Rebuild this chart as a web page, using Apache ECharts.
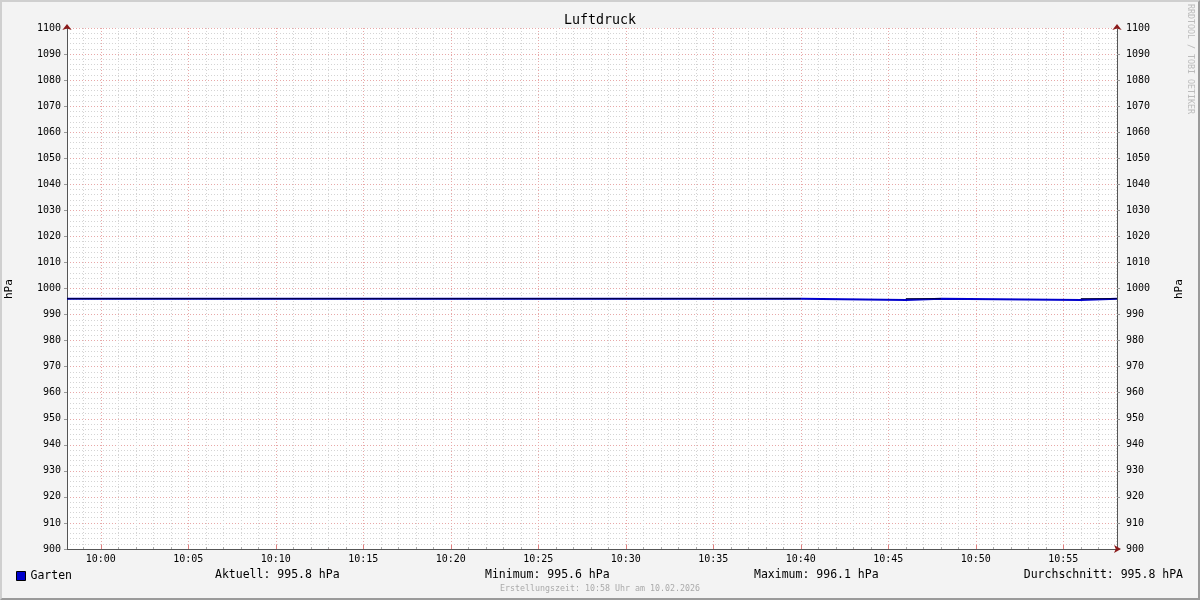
<!DOCTYPE html>
<html><head><meta charset="utf-8">
<script src="https://cdn.jsdelivr.net/npm/echarts@6/dist/echarts.min.js"></script>
<style>
html,body{margin:0;padding:0;background:#f3f3f3;}
#c{width:1200px;height:600px;position:absolute;left:0;top:0;}
#b{position:absolute;left:0;top:0;width:1200px;height:600px;box-sizing:border-box;border-top:2px solid #cfcfcf;border-left:2px solid #cfcfcf;border-right:2px solid #9a9a9a;border-bottom:2px solid #9a9a9a;pointer-events:none;}
</style></head>
<body><div id="c"></div><div id="b"></div>
<script>
// ---- data ----
const chartTitle = 'Luftdruck';
const axisUnit = 'hPa';
const seriesName = 'Garten';
const windowStart = '09:58:04';
const windowEnd = '10:58:04';
const xTickLabels = ['10:00','10:05','10:10','10:15','10:20','10:25','10:30','10:35','10:40','10:45','10:50','10:55'];
// step breakpoints: value holds from time[i] until time[i+1]
const gartenTimes = ['09:58:04', '10:40:00', '10:46:00', '10:48:00', '10:56:00', '10:58:04'];
const gartenValues = [996.1, 995.6, 996.1, 995.6, 996.1, 996.1];
const statLabels = ['Aktuell: 995.8 hPa', 'Minimum: 995.6 hPa', 'Maximum: 996.1 hPa', 'Durchschnitt: 995.8 hPA'];
const footerText = 'Erstellungszeit: 10:58 Uhr am 10.02.2026';
const watermark = 'RRDTOOL / TOBI OETIKER';
const yMin = 900, yMax = 1100, yStep = 10;

// minutes relative to 10:00
function m(hms){ const p = hms.split(':').map(Number); return (p[0]-10)*60 + p[1] + (p[2]||0)/60; }
function pad(n){ return (n<10?'0':'')+n; }
function fmt(v){ const tot = Math.round(v) + 600; return pad(Math.floor(tot/60))+':'+pad(tot%60); }

const xMin = m(windowStart), xMax = m(windowEnd);
const majorTicks = xTickLabels.map(m);
const minorTicks = [];
for (let k=Math.ceil(xMin); k<=Math.floor(xMax); k++) minorTicks.push(k);

// explicit step path: hold each value until the next breakpoint
const gartenData = [];
for (let i=0;i<gartenTimes.length-1;i++){
  gartenData.push([m(gartenTimes[i]), gartenValues[i]]);
  gartenData.push([m(gartenTimes[i+1]), gartenValues[i]]);
}
// dark overlay drawn on the high (max) segments
const maxVal = Math.max.apply(null, gartenValues);
const overlayData = [];
for (let i=0;i<gartenTimes.length-1;i++){
  if (gartenValues[i] === maxVal){
    overlayData.push([m(gartenTimes[i]), gartenValues[i]]);
    overlayData.push([m(gartenTimes[i+1]), gartenValues[i]]);
    overlayData.push([m(gartenTimes[i+1]), null]);
  }
}

const MONO = 'DejaVu Sans Mono';
const chart = echarts.init(document.getElementById('c'), null, {renderer:'canvas'});

function yAx(pos, deco){
  return {
    type:'value', position:pos, min:yMin, max:yMax, interval:yStep,
    axisLine:{show:true, onZero:false, symbol: deco ? ['none','arrow'] : 'none', symbolSize:[7,6], symbolOffset:[0,4],
      lineStyle:{color: deco ? '#8b1a1a' : '#555', width:1}},
    axisTick:{show:!deco, length:3, lineStyle:{color:'#999'}},
    axisLabel:{show:!deco, color:'#000', fontFamily:MONO, fontSize:10, margin: pos==='left'?6:9,
      formatter:function(v){ return String(v); }},
    splitLine:{show:!deco && pos==='left', lineStyle:{color:'#e8a8a8', type:[1,2], width:1}},
    minorTick:{show:false, splitNumber:5},
    minorSplitLine:{show:!deco && pos==='left', lineStyle:{color:'#d4d4d4', type:[1,2], width:1}}
  };
}
// index 0: minor grid (every minute) + red arrow; index 1: major grid, ticks, labels
const xAxes = [
  {
    type:'value', position:'bottom', min:xMin, max:xMax,
    axisLine:{show:true, onZero:false, symbol:['none','arrow'], symbolSize:[6,7], symbolOffset:[0,4],
      lineStyle:{color:'#8b1a1a', width:1}},
    axisTick:{show:true, customValues:minorTicks, length:2, inside:true, lineStyle:{color:'#aaa'}},
    axisLabel:{show:false, customValues:minorTicks},
    splitLine:{show:true, lineStyle:{color:'#d4d4d4', type:[1,2], width:1}},
    minorSplitLine:{show:false}
  },
  {
    type:'value', position:'bottom', min:xMin, max:xMax,
    axisLine:{show:true, onZero:false, lineStyle:{color:'#555', width:1}},
    axisTick:{show:true, customValues:majorTicks, length:4, inside:true, lineStyle:{color:'#e08080'}},
    axisLabel:{show:true, customValues:majorTicks, color:'#000', fontFamily:MONO, fontSize:10, margin:5,
      formatter:function(v){ return fmt(v); }},
    splitLine:{show:true, lineStyle:{color:'#e8a8a8', type:[1,2], width:1}},
    minorSplitLine:{show:false}
  }
];

const option = {
  animation:false,
  backgroundColor:'#f3f3f3',
  title:{text:chartTitle, left:'center', top:9, textStyle:{fontFamily:MONO, fontSize:13.3, fontWeight:'normal', color:'#000'}},
  grid:{left:67, right:83, top:28, bottom:51, show:true, backgroundColor:'#ffffff', borderWidth:0},
  xAxis:xAxes,
  yAxis:[yAx('left',true), yAx('right',true), yAx('left',false), yAx('right',false)],
  legend:{data:[seriesName], left:11, top:565, icon:'rect', itemWidth:9, itemHeight:9, itemGap:6,
    itemStyle:{borderColor:'#000', borderWidth:1},
    textStyle:{fontFamily:MONO, fontSize:11.5, color:'#000', padding:[0,0,0,0]}},
  series:[
    {name:seriesName, type:'line', xAxisIndex:1, yAxisIndex:2, showSymbol:false, symbol:'none',
      data:gartenData, color:'#0000cc', lineStyle:{color:'#0000cc', width:2, join:'miter', cap:'butt'}, z:3},
    {name:'max', type:'line', xAxisIndex:1, yAxisIndex:2, showSymbol:false, symbol:'none', connectNulls:false,
      data:overlayData, lineStyle:{color:'#000033', width:1, cap:'butt'}, z:4, silent:true}
  ],
  graphic:[
    {type:'text', left:215, top:569, style:{text:statLabels[0], font:'11.5px "'+MONO+'"', fill:'#000'}},
    {type:'text', left:485, top:569, style:{text:statLabels[1], font:'11.5px "'+MONO+'"', fill:'#000'}},
    {type:'text', left:754, top:569, style:{text:statLabels[2], font:'11.5px "'+MONO+'"', fill:'#000'}},
    {type:'text', right:17, top:569, style:{text:statLabels[3], font:'11.5px "'+MONO+'"', fill:'#000'}},
    {type:'text', left:'center', top:585, style:{text:footerText, font:'8.3px "'+MONO+'"', fill:'#aaaaaa'}},
    {type:'text', x:4, y:299, rotation:Math.PI/2, style:{text:axisUnit, font:'11px "'+MONO+'"', fill:'#000'}},
    {type:'text', x:1174, y:299, rotation:Math.PI/2, style:{text:axisUnit, font:'11px "'+MONO+'"', fill:'#000'}},
    {type:'text', x:1194, y:4, rotation:-Math.PI/2, style:{text:watermark, font:'8.3px "'+MONO+'"', fill:'#bbbbbb'}}
  ]
};
chart.setOption(option);
</script>
</body></html>
